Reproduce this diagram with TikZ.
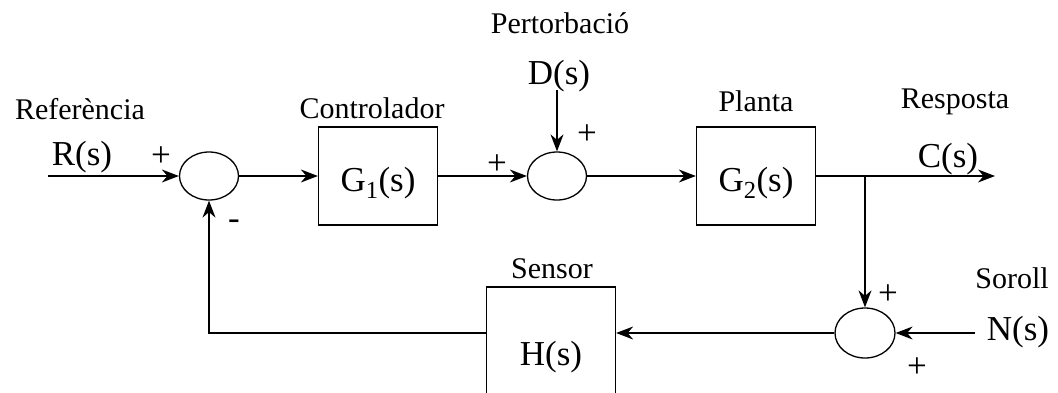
\documentclass[tikz,border=0pt]{standalone}
\usepackage{fontspec}
\setmainfont{Liberation Serif}
\usetikzlibrary{arrows.meta,shapes.geometric}
\tikzset{
  block/.style={draw,line width=1.3pt,minimum width=119pt,minimum height=98pt,inner sep=0pt,
    text height=30pt,text depth=0pt,font=\fontsize{35}{40}\selectfont},
  sumnode/.style={draw,ellipse,line width=1.3pt,minimum width=59pt,minimum height=48pt,inner sep=0pt},
  lbl/.style={anchor=base,inner sep=0pt,font=\fontsize{30}{34}\selectfont},
  sig/.style={anchor=base,inner sep=0pt,font=\fontsize{35}{40}\selectfont},
  sgn/.style={inner sep=0pt,font=\fontsize{35}{40}\selectfont}
}
\begin{document}
\begin{tikzpicture}[x=1pt,y=-1pt,>={Stealth[length=17pt,width=13pt]},line width=1.3pt]
\clip (0,0) rectangle (1058,392);
% summing points
\node[sumnode] (sumR) at (209,176) {};
\node[sumnode] (sumD) at (557,176) {};
\node[sumnode,minimum width=60pt,minimum height=50pt] (sumN) at (865,333) {};
% blocks
\node[block] (ctrl) at (378,176) {G\textsubscript{1}(s)};
\node[block] (plant) at (756,176) {G\textsubscript{2}(s)};
\node[block,minimum width=129pt,minimum height=126pt] (sensor) at (551,350) {H(s)};
% free ends
\coordinate (inR) at (48,176);
\coordinate (inD) at (557,90);
\coordinate (inN) at (975,333);
\coordinate (branch) at (865,176);
\coordinate (out) at (995,176);
% texts
\node[lbl] (tRef) at (80,119) {Referència};
\node[lbl] (tCtrl) at (372,118) {Controlador};
\node[lbl] (tDist) at (560,33) {Pertorbació};
\node[lbl] (tPlant) at (756,111) {Planta};
\node[lbl] (tResp) at (955,108) {Resposta};
\node[lbl] (tSens) at (552,278) {Sensor};
\node[lbl] (tNoise) at (1012,288) {Soroll};
\node[sig] (sR) at (82,165) {R(s)};
\node[sig] (sD) at (559,84) {D(s)};
\node[sig] (sC) at (948,167) {C(s)};
\node[sig] (sN) at (1018,340) {N(s)};
\node[sgn] (pR) at (161,157) {+};
\node[sgn] (pG) at (497,165) {+};
\node[sgn] (pD) at (587,135) {+};
\node[sgn] (pB) at (888,295) {+};
\node[sgn] (pN) at (917,368) {+};
\node[sgn] (mH) at (234,225) {-};
% connectors
\draw[->] (inR) -- (sumR);
\draw[->] (sumR) -- (ctrl);
\draw[->] (ctrl) -- (sumD);
\draw[->] (inD) -- (sumD);
\draw[->] (sumD) -- (plant);
\draw[->] (plant) -- (out);
\draw[->] (branch) -- (sumN);
\draw[->] (inN) -- (sumN);
\draw[->] (sumN) -- (sumN -| sensor.east);
\draw[->] (sumN -| sensor.west) -| (sumR);
\end{tikzpicture}
\end{document}
